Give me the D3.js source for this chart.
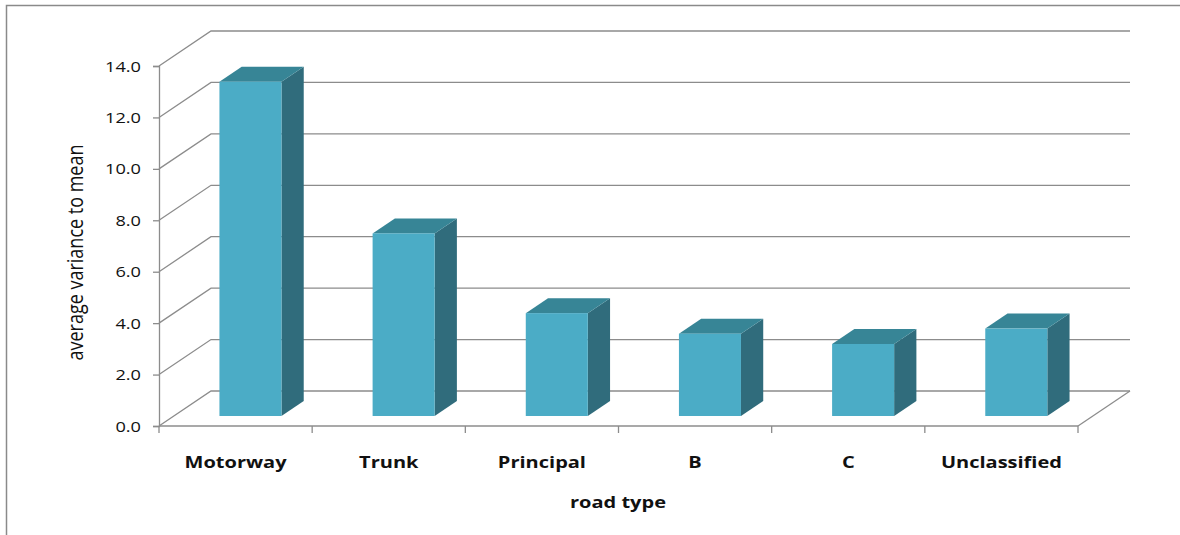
<!DOCTYPE html>
<html>
<head>
<meta charset="utf-8">
<script src="https://cdn.jsdelivr.net/npm/d3@7/dist/d3.min.js"></script>
<style>
  html, body { margin: 0; padding: 0; background: #fff; }
  svg { display: block; }
  text { font-family: "Open Sans", "Noto Sans", "Liberation Sans", sans-serif; fill: #111; }
</style>
</head>
<body>
<svg id="chart" width="1180" height="535"></svg>
<script>
// Road types and their average variance to mean
const categories = ["Motorway", "Trunk", "Principal", "B", "C", "Unclassified"];
const values = [13.0, 7.1, 4.0, 3.2, 2.8, 3.4];
const yTicks = [0, 2, 4, 6, 8, 10, 12, 14];
const yTitle = "average variance to mean";
const xTitle = "road type";

const svg = d3.select("#chart");

// Front plane of the 3D box
const plotLeft = 159, plotRight = 1078, plotBottom = 426, plotTop = 66;
// Depth vector from front plane to back wall
const depth = { dx: 52, dy: -35 };
// Bars sit in the middle of the depth
const d0 = 0.286, d1 = 0.714;
// Text is drawn slightly wide
const tickStretch = 1.3, labelStretch = 1.25;

const x = d3.scaleBand().domain(categories).range([plotLeft, plotRight]).padding(0);
const y = d3.scaleLinear().domain([0, 14]).range([plotBottom, plotTop]);
const barW = x.bandwidth() * 0.405;

const gridColor = "#8c8c8c";

// Outer chart frame
svg.append("rect")
  .attr("x", 6.5).attr("y", 5.5)
  .attr("width", 1200).attr("height", 600)
  .attr("fill", "none").attr("stroke", "#8a8a8a").attr("stroke-width", 1.5);

// Side wall diagonals and back wall gridlines
const grid = svg.append("g").attr("fill", "none").attr("stroke", gridColor).attr("stroke-width", 1.3);
yTicks.forEach(v => {
  const yy = y(v);
  grid.append("path").attr("d", d3.line()([
    [plotLeft, yy],
    [plotLeft + depth.dx, yy + depth.dy],
    [plotRight + depth.dx, yy + depth.dy]
  ]));
});
// Floor right edge
grid.append("path").attr("d", d3.line()([
  [plotRight, plotBottom], [plotRight + depth.dx, plotBottom + depth.dy]
]));

// Y axis
const yAxis = d3.axisLeft(y).tickValues(yTicks).tickFormat(d3.format(".1f")).tickSize(6);
const gy = svg.append("g").attr("transform", `translate(${plotLeft},0)`).call(yAxis);
gy.select(".domain").attr("stroke", gridColor).attr("stroke-width", 1.3);
gy.selectAll(".tick line").attr("stroke", gridColor).attr("stroke-width", 1.3);
gy.selectAll(".tick text")
  .attr("x", 0)
  .attr("dy", "0.36em")
  .attr("transform", `translate(-18,0) scale(${tickStretch},1)`)
  .style("font-size", "14px").style("font-family", null)
  .attr("fill", "#222");

// X axis (front floor edge) with ticks between categories
svg.append("line")
  .attr("x1", plotLeft).attr("x2", plotRight).attr("y1", plotBottom).attr("y2", plotBottom)
  .attr("stroke", gridColor).attr("stroke-width", 1.3);
const bounds = categories.map(c => x(c)).concat([plotRight]);
svg.append("g").selectAll("line").data(bounds).join("line")
  .attr("x1", d => d).attr("x2", d => d)
  .attr("y1", plotBottom).attr("y2", plotBottom + 7)
  .attr("stroke", gridColor).attr("stroke-width", 1.3);

// Category labels
svg.append("g").selectAll("text").data(categories).join("text")
  .attr("transform", d => `translate(${x(d) + x.bandwidth() / 2},467.5) scale(${labelStretch},1)`)
  .attr("text-anchor", "middle")
  .style("font-size", "16px").style("font-weight", "bold")
  .text(d => d);

// 3D bars
const frontC = "#4BACC6", topC = "#378596", sideC = "#306C7C";
const bars = svg.append("g");
categories.forEach((c, i) => {
  const cx = x(c) + x.bandwidth() / 2;
  const fx0 = cx - barW / 2 + d0 * depth.dx;
  const fx1 = cx + barW / 2 + d0 * depth.dx;
  const fyB = y(0) + d0 * depth.dy;
  const fyT = y(values[i]) + d0 * depth.dy;
  const ddx = (d1 - d0) * depth.dx, ddy = (d1 - d0) * depth.dy;
  const g = bars.append("g");
  // side face
  g.append("path").attr("fill", sideC).attr("d", d3.line()([
    [fx1, fyT], [fx1 + ddx, fyT + ddy], [fx1 + ddx, fyB + ddy], [fx1, fyB]
  ]) + "Z");
  // top face
  g.append("path").attr("fill", topC).attr("d", d3.line()([
    [fx0, fyT], [fx0 + ddx, fyT + ddy], [fx1 + ddx, fyT + ddy], [fx1, fyT]
  ]) + "Z");
  // front face
  g.append("rect").attr("fill", frontC)
    .attr("x", fx0).attr("y", fyT).attr("width", fx1 - fx0).attr("height", fyB - fyT);
});

// Axis titles
svg.append("text")
  .attr("transform", `translate(83,252.5) rotate(-90) scale(1,${labelStretch})`)
  .attr("text-anchor", "middle")
  .style("font-size", "18px").style("font-weight", 500)
  .text(yTitle);

svg.append("text")
  .attr("transform", `translate(618,508) scale(${labelStretch},1)`)
  .attr("text-anchor", "middle")
  .style("font-size", "16px").style("font-weight", "bold")
  .text(xTitle);
</script>
</body>
</html>
